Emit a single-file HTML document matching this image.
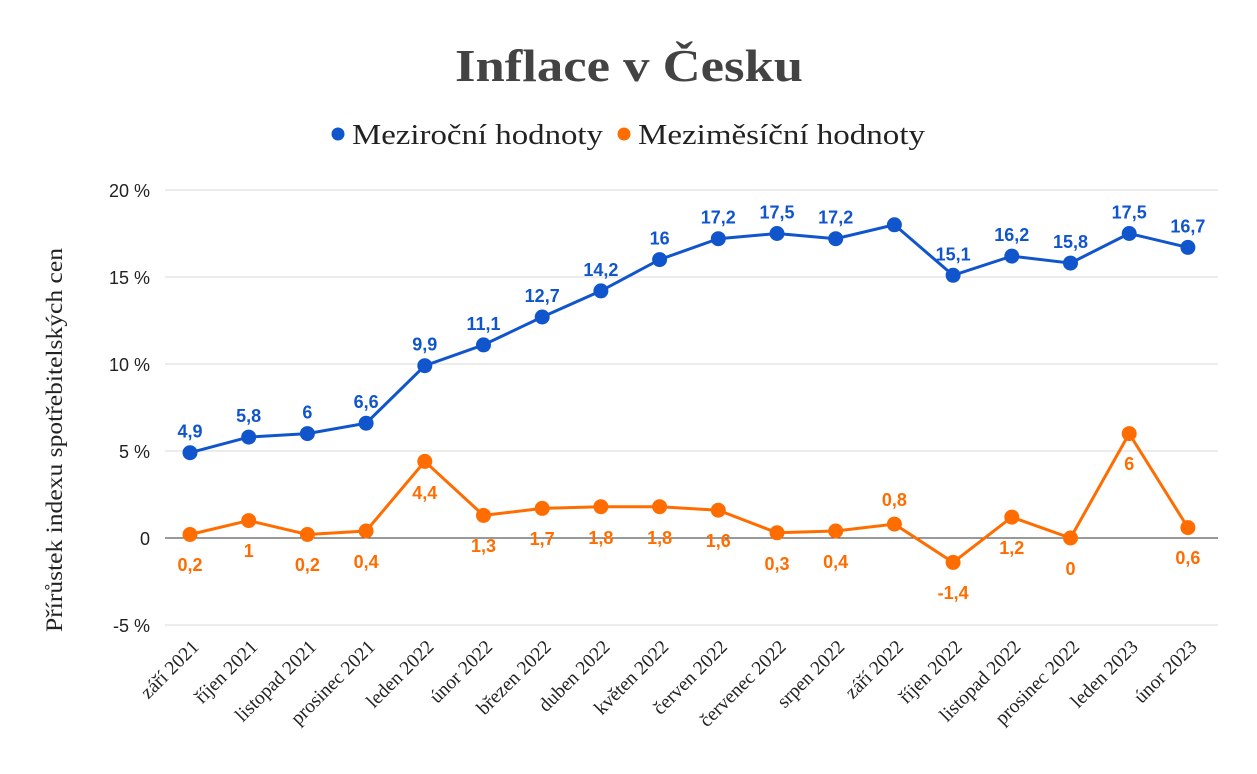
<!DOCTYPE html>
<html><head><meta charset="utf-8"><style>
html,body{margin:0;padding:0;background:#fff;}
svg{display:block;}
</style></head><body>
<svg width="1257" height="774" xmlns="http://www.w3.org/2000/svg">
<rect width="1257" height="774" fill="#fff"/>
<text x="629" y="81" text-anchor="middle" font-family="Liberation Serif, serif" font-weight="bold" font-size="46" fill="#434343" textLength="348" lengthAdjust="spacingAndGlyphs">Inflace v Česku</text>
<circle cx="338" cy="134" r="6.5" fill="#1155cc"/>
<text x="352" y="144" font-family="Liberation Serif, serif" font-size="29" fill="#222" textLength="251" lengthAdjust="spacingAndGlyphs">Meziroční hodnoty</text>
<circle cx="624" cy="134" r="6.5" fill="#ff6d01"/>
<text x="638" y="144" font-family="Liberation Serif, serif" font-size="29" fill="#222" textLength="287" lengthAdjust="spacingAndGlyphs">Meziměsíční hodnoty</text>
<g stroke="#d9d9d9" stroke-width="1">
<line x1="165" x2="1218" y1="190" y2="190"/><line x1="165" x2="1218" y1="277" y2="277"/>
<line x1="165" x2="1218" y1="364" y2="364"/><line x1="165" x2="1218" y1="451" y2="451"/>
<line x1="165" x2="1218" y1="625" y2="625"/>
</g>
<line x1="165" x2="1218" y1="538" y2="538" stroke="#333" stroke-width="1"/>
<g font-family="Liberation Sans, sans-serif" font-size="18" fill="#222" text-anchor="end">
<text x="150" y="197">20 %</text><text x="150" y="284">15 %</text><text x="150" y="371">10 %</text>
<text x="150" y="458">5 %</text><text x="150" y="545">0</text><text x="150" y="632">-5 %</text>
</g>
<text transform="translate(62,440) rotate(-90)" text-anchor="middle" font-family="Liberation Serif, serif" font-size="23" fill="#222" textLength="384" lengthAdjust="spacingAndGlyphs">Přírůstek indexu spotřebitelských cen</text>

<polyline fill="none" stroke="#1155cc" stroke-width="3" points="190,452.7 248.7,437.1 307.4,433.6 366.1,423.2 424.8,365.7 483.5,344.9 542.2,317 600.9,290.9 659.6,259.6 718.3,238.7 777,233.5 835.7,238.7 894.4,224.8 953.1,275.3 1011.8,256.1 1070.5,263.1 1129.2,233.5 1187.9,247.4"/>
<polyline fill="none" stroke="#ff6d01" stroke-width="3" points="190,534.5 248.7,520.6 307.4,534.5 366.1,531 424.8,461.4 483.5,515.4 542.2,508.4 600.9,506.7 659.6,506.7 718.3,510.2 777,532.8 835.7,531 894.4,524.1 953.1,562.4 1011.8,517.1 1070.5,538 1129.2,433.6 1187.9,527.6"/>
<g fill="#1155cc">
<circle cx="190" cy="452.7" r="7.5"/><circle cx="248.7" cy="437.1" r="7.5"/><circle cx="307.4" cy="433.6" r="7.5"/><circle cx="366.1" cy="423.2" r="7.5"/><circle cx="424.8" cy="365.7" r="7.5"/><circle cx="483.5" cy="344.9" r="7.5"/><circle cx="542.2" cy="317" r="7.5"/><circle cx="600.9" cy="290.9" r="7.5"/><circle cx="659.6" cy="259.6" r="7.5"/><circle cx="718.3" cy="238.7" r="7.5"/><circle cx="777" cy="233.5" r="7.5"/><circle cx="835.7" cy="238.7" r="7.5"/><circle cx="894.4" cy="224.8" r="7.5"/><circle cx="953.1" cy="275.3" r="7.5"/><circle cx="1011.8" cy="256.1" r="7.5"/><circle cx="1070.5" cy="263.1" r="7.5"/><circle cx="1129.2" cy="233.5" r="7.5"/><circle cx="1187.9" cy="247.4" r="7.5"/>
</g>
<g fill="#ff6d01">
<circle cx="190" cy="534.5" r="7.5"/><circle cx="248.7" cy="520.6" r="7.5"/><circle cx="307.4" cy="534.5" r="7.5"/><circle cx="366.1" cy="531" r="7.5"/><circle cx="424.8" cy="461.4" r="7.5"/><circle cx="483.5" cy="515.4" r="7.5"/><circle cx="542.2" cy="508.4" r="7.5"/><circle cx="600.9" cy="506.7" r="7.5"/><circle cx="659.6" cy="506.7" r="7.5"/><circle cx="718.3" cy="510.2" r="7.5"/><circle cx="777" cy="532.8" r="7.5"/><circle cx="835.7" cy="531" r="7.5"/><circle cx="894.4" cy="524.1" r="7.5"/><circle cx="953.1" cy="562.4" r="7.5"/><circle cx="1011.8" cy="517.1" r="7.5"/><circle cx="1070.5" cy="538" r="7.5"/><circle cx="1129.2" cy="433.6" r="7.5"/><circle cx="1187.9" cy="527.6" r="7.5"/>
</g>
<g font-family="Liberation Sans, sans-serif" font-weight="bold" font-size="18" fill="#1155cc" text-anchor="middle">
<text x="190" y="437.7">4,9</text><text x="248.7" y="422.1">5,8</text><text x="307.4" y="418.6">6</text><text x="366.1" y="408.2">6,6</text><text x="424.8" y="350.7">9,9</text><text x="483.5" y="329.9">11,1</text><text x="542.2" y="302">12,7</text><text x="600.9" y="275.9">14,2</text><text x="659.6" y="244.6">16</text><text x="718.3" y="223.7">17,2</text><text x="777" y="218.5">17,5</text><text x="835.7" y="223.7">17,2</text><text x="953.1" y="260.3">15,1</text><text x="1011.8" y="241.1">16,2</text><text x="1070.5" y="248.1">15,8</text><text x="1129.2" y="218.5">17,5</text><text x="1187.9" y="232.4">16,7</text>
</g>
<g font-family="Liberation Sans, sans-serif" font-weight="bold" font-size="18" fill="#ff6d01" text-anchor="middle">
<text x="190" y="571">0,2</text><text x="248.7" y="557">1</text><text x="307.4" y="571">0,2</text><text x="366.1" y="568">0,4</text><text x="424.8" y="499">4,4</text><text x="483.5" y="552">1,3</text><text x="542.2" y="545">1,7</text><text x="600.9" y="544">1,8</text><text x="659.6" y="544">1,8</text><text x="718.3" y="547">1,6</text><text x="777" y="570">0,3</text><text x="835.7" y="568">0,4</text><text x="894.4" y="506">0,8</text><text x="953.1" y="599">-1,4</text><text x="1011.8" y="554">1,2</text><text x="1070.5" y="575">0</text><text x="1129.2" y="470">6</text><text x="1187.9" y="564">0,6</text>
</g>
<g font-family="Liberation Serif, serif" font-size="19.5" fill="#222" text-anchor="end">
<text transform="translate(200,648) rotate(-45)">září 2021</text>
<text transform="translate(258.7,648) rotate(-45)">říjen 2021</text>
<text transform="translate(317.4,648) rotate(-45)">listopad 2021</text>
<text transform="translate(376.1,648) rotate(-45)">prosinec 2021</text>
<text transform="translate(434.8,648) rotate(-45)">leden 2022</text>
<text transform="translate(493.5,648) rotate(-45)">únor 2022</text>
<text transform="translate(552.2,648) rotate(-45)">březen 2022</text>
<text transform="translate(610.9,648) rotate(-45)">duben 2022</text>
<text transform="translate(669.6,648) rotate(-45)">květen 2022</text>
<text transform="translate(728.3,648) rotate(-45)">červen 2022</text>
<text transform="translate(787,648) rotate(-45)">červenec 2022</text>
<text transform="translate(845.7,648) rotate(-45)">srpen 2022</text>
<text transform="translate(904.4,648) rotate(-45)">září 2022</text>
<text transform="translate(963.1,648) rotate(-45)">říjen 2022</text>
<text transform="translate(1021.8,648) rotate(-45)">listopad 2022</text>
<text transform="translate(1080.5,648) rotate(-45)">prosinec 2022</text>
<text transform="translate(1139.2,648) rotate(-45)">leden 2023</text>
<text transform="translate(1197.9,648) rotate(-45)">únor 2023</text>
</g>
</svg>
</body></html>
